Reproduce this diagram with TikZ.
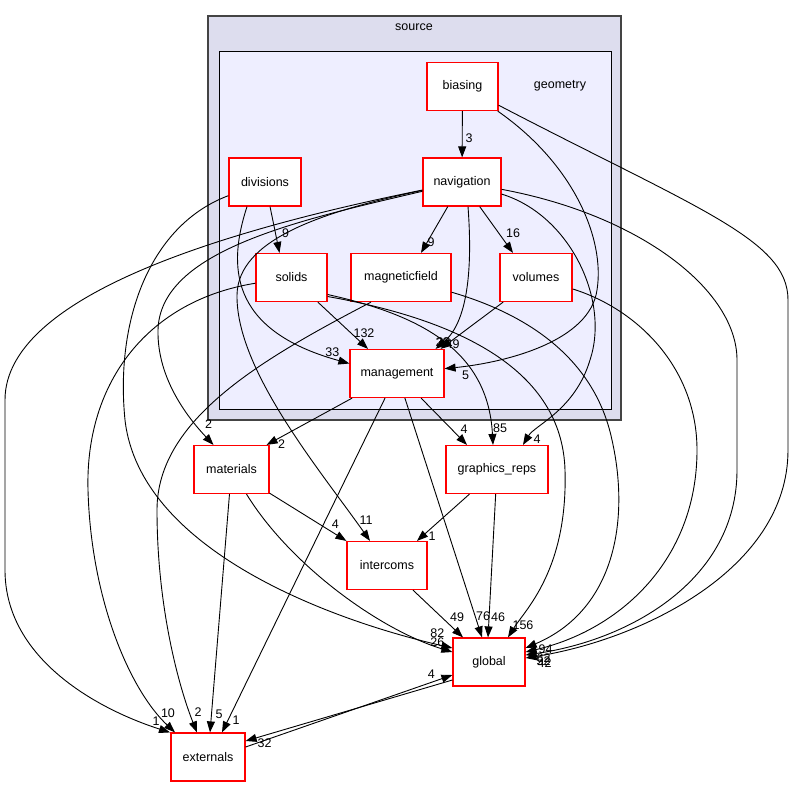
\documentclass[tikz,border=0pt]{standalone}
\usepackage{fontspec}
\setmainfont{Liberation Sans}
\usepackage{tikz}
\usetikzlibrary{arrows.meta}

\definecolor{srcfill}{RGB}{221,221,238}
\definecolor{geofill}{RGB}{238,238,255}
\definecolor{srcline}{RGB}{68,68,68}

\tikzset{
  dirnode/.style={rectangle, draw=red, line width=1.2pt, fill=white, minimum height=48, inner sep=0, font=\fontsize{12.5}{14}\selectfont},
  dep/.style={-{Triangle[length=11pt,width=8pt]}, line width=0.9pt},
  lbl/.style={inner sep=0, font=\fontsize{12.5}{14}\selectfont},
}

\begin{document}
\begin{tikzpicture}[x=1pt, y=-1pt]
    \useasboundingbox (0,0) rectangle (795,788);

    \draw[srcline, fill=srcfill, line width=1.8pt] (208,16) rectangle (621,420);
    \draw[fill=geofill, line width=0.9pt] (219,51) rectangle (611,409);
    \node[lbl]  (srcname) at (414,27)  {source};
    \node[lbl]  (geoname) at (560,86)  {geometry};


    \node[dirnode, minimum width=71]   (biasing)       at (462.5,86.5)   {biasing};
    \node[dirnode, minimum width=72]   (divisions)     at (265,182)      {divisions};
    \node[dirnode, minimum width=78]   (navigation)    at (462,182)      {navigation};
    \node[dirnode, minimum width=71]   (solids)        at (291.5,277.5)  {solids};
    \node[dirnode, minimum width=100]  (magneticfield) at (401,277.5)    {magneticfield};
    \node[dirnode, minimum width=72]   (volumes)       at (536,277.5)    {volumes};
    \node[dirnode, minimum width=94]   (management)    at (397,373.5)    {management};
    \node[dirnode, minimum width=75]   (materials)     at (231.5,469.5)  {materials};
    \node[dirnode, minimum width=102]  (graphicsreps)  at (497,469.5)    {graphics\_reps};
    \node[dirnode, minimum width=80]   (intercoms)     at (387,565.5)    {intercoms};
    \node[dirnode, minimum width=72]   (global)        at (489,662)      {global};
    \node[dirnode, minimum width=74]   (externals)     at (208,757)      {externals};


    \draw[dep] (biasing) -- (navigation) node[lbl, pos=1, xshift=7, yshift=19] {3};
    \draw[dep] (biasing) .. controls (575,165) and (605,240) .. (597,290) .. controls (590,340) and (510,362) .. (management) node[lbl, pos=1, xshift=21, yshift=-7] {5};
    \draw[dep] (biasing) .. controls (700,210) and (788,240) .. (788,300) -- (788,450) .. controls (788,570) and (640,640) .. ([yshift=4]global.east) node[lbl, pos=1, xshift=19, yshift=-5] {42};

    \draw[dep] (navigation) -- ([xshift=20]magneticfield.north) node[lbl, pos=1, xshift=10, yshift=11] {9};
    \draw[dep] (navigation) -- ([xshift=-23]volumes.north) node[lbl, pos=1, yshift=20] {16};
    \draw[dep] ([xshift=6]navigation.south) .. controls (472,260) and (470,320) .. ([xshift=-9]management.north east) node[lbl, pos=1, xshift=7, yshift=7] {20} node[lbl, pos=1, xshift=8, yshift=7] {38};
    \draw[dep] (navigation) .. controls (570,215) and (610,300) .. (590,360) .. controls (575,410) and (535,425) .. ([xshift=26]graphicsreps.north) node[lbl, pos=1, xshift=14, yshift=6] {4};
    \draw[dep] (navigation) .. controls (640,215) and (737,290) .. (737,360) -- (737,470) .. controls (737,580) and (630,640) .. ([yshift=7]global.east) node[lbl, pos=1, xshift=18, yshift=-6] {52};
    \draw[dep] (navigation) .. controls (250,225) and (5,290) .. (5,400) -- (5,570) .. controls (5,660) and (100,710) .. ([xshift=-38]externals.north) node[lbl, pos=1, xshift=-14, yshift=11] {1};
    \draw[dep] (navigation) .. controls (300,220) and (160,250) .. (158,330) .. controls (157,380) and (190,420) .. ([xshift=-18]materials.north) node[lbl, pos=1, xshift=-5, yshift=21] {2};
    \draw[dep] (navigation) .. controls (320,212) and (238,240) .. (237,295) .. controls (236,370) and (320,470) .. ([xshift=-17]intercoms.north) node[lbl, pos=1, xshift=-4, yshift=21] {11};

    \draw[dep] (divisions) -- ([xshift=-12]solids.north) node[lbl, pos=1, xshift=6, yshift=20] {9};
    \draw[dep] ([xshift=-18]divisions.south) .. controls (228,265) and (228,330) .. ([yshift=10]management.west) node[lbl, pos=1, xshift=-17, yshift=11] {33};
    \draw[dep] (divisions) .. controls (150,225) and (115,320) .. (125,420) .. controls (140,550) and (330,620) .. ([yshift=14]global.west) node[lbl, pos=1, xshift=-15, yshift=15] {82};

    \draw[dep] (solids) -- ([xshift=-29]management.north) node[lbl, pos=1, xshift=-4, yshift=16] {132};
    \draw[dep] (solids) .. controls (150,300) and (85,380) .. (88,490) .. controls (91,600) and (130,690) .. ([xshift=-33]externals.north) node[lbl, pos=1, xshift=-7, yshift=19] {10};
    \draw[dep] ([yshift=-17]solids.east) .. controls (420,315) and (488,350) .. ([xshift=-4]graphicsreps.north) node[lbl, pos=1, xshift=7, yshift=17] {85};
    \draw[dep] ([yshift=-19]solids.east) .. controls (460,320) and (562,370) .. (565,470) .. controls (568,570) and (525,610) .. ([xshift=19]global.north) node[lbl, pos=1, xshift=15, yshift=12] {156};

    \draw[dep] ([xshift=-30]magneticfield.south) .. controls (260,360) and (157,420) .. (157,510) .. controls (157,610) and (180,690) .. ([xshift=-11]externals.north) node[lbl, pos=1, xshift=1, yshift=20] {2};
    \draw[dep] (magneticfield) .. controls (530,315) and (595,360) .. (612,440) .. controls (630,520) and (615,610) .. ([yshift=14]global.east) node[lbl, pos=1, xshift=20, yshift=-1] {94};

    \draw[dep] (volumes) -- ([xshift=-4]management.north east) node[lbl, pos=1, xshift=12, yshift=5] {49};
    \draw[dep] (volumes) .. controls (640,310) and (697,370) .. (697,450) .. controls (697,560) and (620,630) .. ([yshift=10]global.east) node[lbl, pos=1, xshift=18, yshift=-6] {62};

    \draw[dep] (management) -- ([xshift=-3]materials.north east) node[lbl, pos=1, xshift=15, yshift=1] {2};
    \draw[dep] (management) -- ([xshift=-30]graphicsreps.north) node[lbl, pos=1, xshift=-3, yshift=16] {4};
    \draw[dep] (management) -- ([xshift=-7]global.north) node[lbl, pos=1, xshift=1, yshift=21] {76};
    \draw[dep] (management) -- ([xshift=14]externals.north) node[lbl, pos=1, xshift=14, yshift=12] {1};

    \draw[dep] (materials) -- (intercoms.north west) node[lbl, pos=1, xshift=-11, yshift=17] {4};
    \draw[dep] (materials) -- ([xshift=2]externals.north) node[lbl, pos=1, xshift=9, yshift=18] {5};
    \draw[dep] ([xshift=15]materials.south) .. controls (290,565) and (380,630) .. ([yshift=10]global.west) node[lbl, pos=1, xshift=-15, yshift=10] {26};

    \draw[dep] (graphicsreps) -- ([xshift=30]intercoms.north) node[lbl, pos=1, xshift=15, yshift=5] {1};
    \draw[dep] (graphicsreps) -- ([xshift=-1]global.north) node[lbl, pos=1, xshift=10, yshift=20] {46};

    \draw[dep] (intercoms) -- ([xshift=-26]global.north) node[lbl, pos=1, xshift=-6, yshift=20] {49};

    \draw[dep] ([yshift=10]externals.east) -- ([yshift=-13]global.west) node[lbl, pos=1, xshift=-21, yshift=1] {4};
    \draw[dep] ([yshift=-18]global.west) -- ([yshift=16]externals.east) node[lbl, pos=1, xshift=19, yshift=-2] {32};
\end{tikzpicture}
\end{document}
